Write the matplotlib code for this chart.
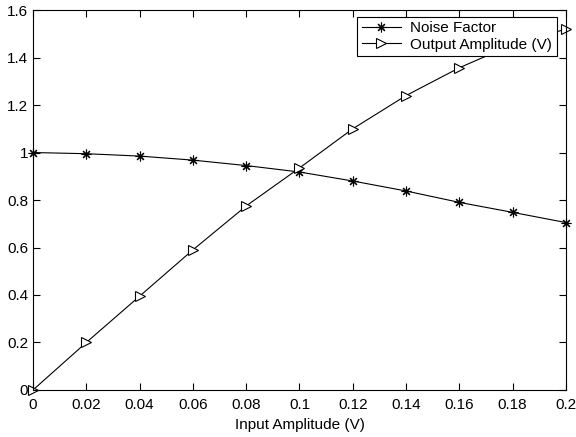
import numpy as np
import matplotlib.pyplot as plt

plt.rcParams['font.family'] = ['Liberation Sans', 'DejaVu Sans']
plt.rcParams['font.size'] = 11

# input amplitude (V)
x = [0.0, 0.02, 0.04, 0.06, 0.08, 0.10, 0.12, 0.14, 0.16, 0.18, 0.20]

noise_factor = [1.0, 0.995, 0.985, 0.968, 0.945, 0.918, 0.88, 0.838, 0.79, 0.748, 0.705]
output_amp = [0.0, 0.2, 0.395, 0.59, 0.775, 0.935, 1.10, 1.24, 1.357, 1.455, 1.52]

fig = plt.figure(figsize=(5.76, 4.37), dpi=100)
ax = fig.add_axes([0.0573, 0.1076, 0.9253, 0.8694])

ax.plot(x, noise_factor, color='black', lw=0.8, marker=(8, 2, 0), ms=7,
        mec='black', mew=0.8, label='Noise Factor', clip_on=False)
ax.plot(x, output_amp, color='black', lw=0.8, marker='>', ms=7,
        mfc='white', mec='black', mew=0.8, label='Output Amplitude (V)', clip_on=False)

ax.set_xlim(0, 0.2)
ax.set_ylim(0, 1.6)
ax.set_xticks(np.arange(0, 0.201, 0.02))
ax.set_xticklabels(['0', '0.02', '0.04', '0.06', '0.08', '0.1', '0.12', '0.14', '0.16', '0.18', '0.2'])
ax.set_yticks(np.arange(0, 1.61, 0.2))
ax.set_yticklabels(['0', '0.2', '0.4', '0.6', '0.8', '1', '1.2', '1.4', '1.6'])
ax.tick_params(direction='in', top=True, right=True, length=5, width=0.8, labelsize=11)
ax.tick_params(axis='x', pad=6)
for s in ax.spines.values():
    s.set_linewidth(0.8)

ax.set_xlabel('Input Amplitude (V)', fontsize=11, labelpad=4)

leg = ax.legend(loc='upper right', bbox_to_anchor=(0.983, 0.982), fancybox=False,
                edgecolor='black', framealpha=1, fontsize=11, handlelength=2.6,
                borderpad=0.3, labelspacing=0.15, borderaxespad=0, handletextpad=0.6)
leg.get_frame().set_linewidth(0.8)

fig.savefig('out.png', dpi=100)
